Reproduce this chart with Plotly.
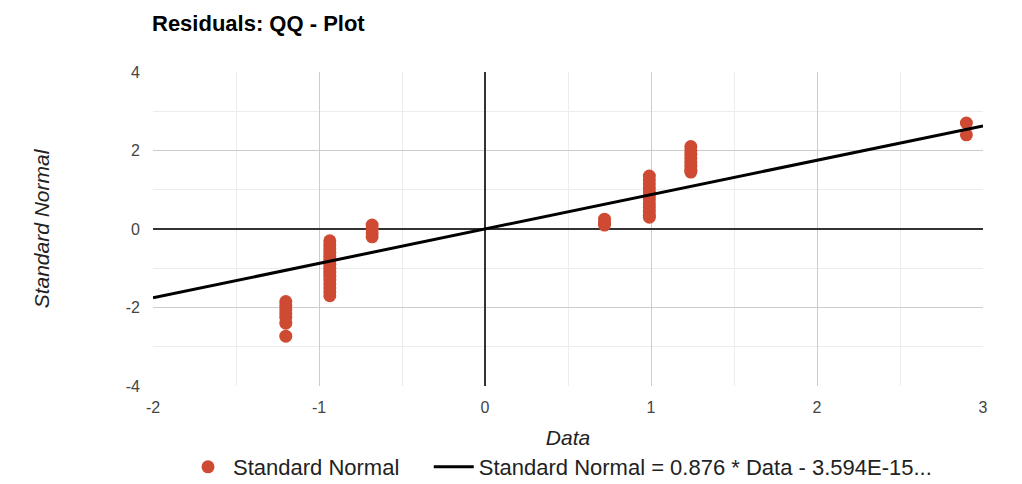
import plotly.graph_objects as go

# Residual QQ data
cluster_x = [-1.2, -0.935, -0.68, 0.72, 0.99, 1.24, 2.9]
cluster_y = [
    [-1.85, -1.95, -2.05, -2.15, -2.25, -2.4, -2.73],
    [-0.3, -0.4, -0.5, -0.6, -0.7, -0.8, -0.9, -1.0, -1.1, -1.2, -1.3, -1.4, -1.5, -1.6, -1.7],
    [0.1, 0.0, -0.1, -0.2],
    [0.25, 0.15, 0.1],
    [1.35, 1.25, 1.15, 1.05, 0.95, 0.85, 0.75, 0.65, 0.55, 0.45, 0.35, 0.3],
    [2.1, 2.0, 1.9, 1.8, 1.7, 1.6, 1.5, 1.45],
    [2.7, 2.4],
]
slope = 0.876
intercept = -3.594e-15
trend_x = [-2, 3]
x_ticks = [-2, -1, 0, 1, 2, 3]
x_ticktext = ["-2", "-1", "0", "1", "2", "3"]
y_ticks = [-4, -2, 0, 2, 4]
y_ticktext = ["-4", "-2", "0", "2", "4"]

xs, ys = [], []
for cx, cy in zip(cluster_x, cluster_y):
    for v in cy:
        xs.append(cx)
        ys.append(v)
trend_y = [slope * x + intercept for x in trend_x]

red = "#cf4a33"
font = "Liberation Sans, Arial, sans-serif"

fig = go.Figure()
fig.add_trace(go.Scatter(x=xs, y=ys, mode="markers",
                         name="Standard Normal" + "\u00a0" * 4,
                         marker=dict(color=red, size=13, line=dict(width=0))))
fig.add_trace(go.Scatter(x=trend_x, y=trend_y, mode="lines",
                         name="Standard Normal = 0.876 * Data - 3.594E-15...",
                         line=dict(color="black", width=3)))

fig.update_layout(
    width=1022, height=484,
    margin=dict(l=153, r=39, t=72, b=98, autoexpand=False),
    paper_bgcolor="white", plot_bgcolor="white",
    font=dict(family=font, size=15, color="#222"),
    title=dict(text="<b>Residuals: QQ - Plot</b>", x=152/1022, xanchor="left",
               y=1 - 23/484, yanchor="middle", pad=dict(l=0, t=0, b=0, r=0),
               font=dict(size=22, color="black")),
    showlegend=True,
    legend=dict(orientation="h", x=(183 - 153) / 830, xanchor="left",
                y=(386 - 467) / 314, yanchor="middle",
                font=dict(size=22, color="#222"), itemwidth=40),
)
fig.update_xaxes(range=[-2, 3], tickvals=x_ticks, ticktext=x_ticktext, showgrid=True,
                 gridcolor="#cccccc", automargin=False,
                 zeroline=True, zerolinecolor="#333", zerolinewidth=1.5,
                 minor=dict(dtick=0.5, tick0=0, showgrid=True, gridcolor="#ececec"),
                 tickfont=dict(size=16, color="#444"), ticks="", showline=False,
                 ticklabelstandoff=10,
                 title=dict(text="<i>Data</i>", font=dict(size=21, color="#222"), standoff=15))
fig.update_yaxes(range=[-4, 4], tickvals=y_ticks, ticktext=y_ticktext, showgrid=True,
                 gridcolor="#cccccc", automargin=False,
                 zeroline=True, zerolinecolor="#333", zerolinewidth=1.5,
                 minor=dict(dtick=1, tick0=0, showgrid=True, gridcolor="#ececec"),
                 tickfont=dict(size=16, color="#444"), ticks="", showline=False,
                 ticklabelstandoff=12,
                 title=dict(text="<i>Standard Normal</i>", font=dict(size=21, color="#222"), standoff=70))

fig.write_html("out.html", config={"displayModeBar": False},
               post_script="document.body.style.margin='0';")
